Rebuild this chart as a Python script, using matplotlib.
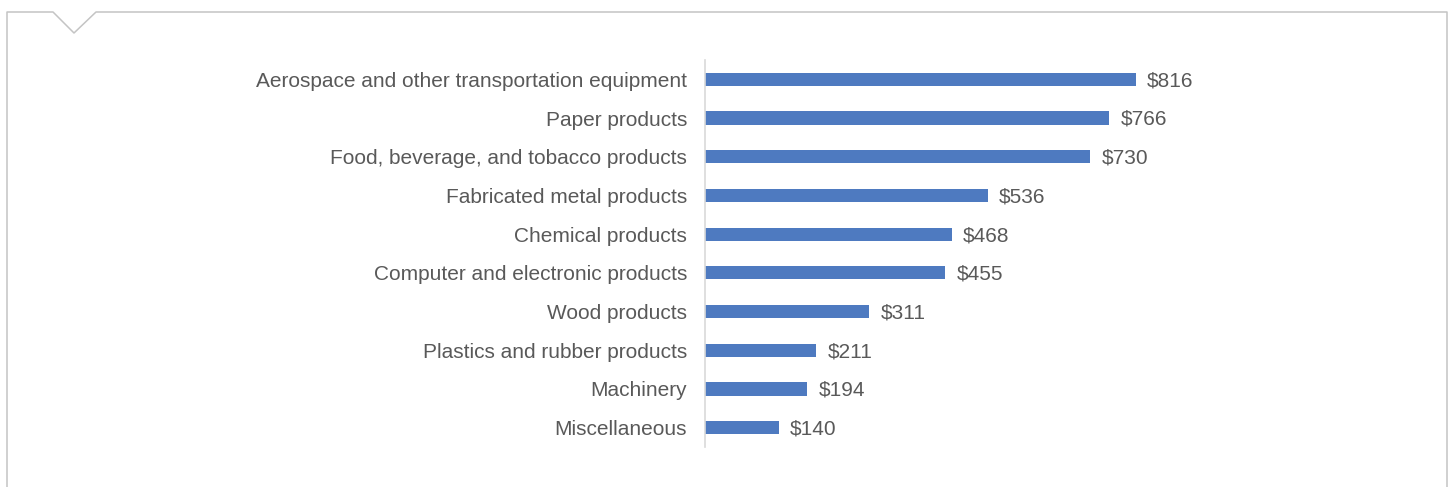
import matplotlib
matplotlib.use("Agg")
import matplotlib.pyplot as plt
from matplotlib.lines import Line2D

categories = [
    "Aerospace and other transportation equipment",
    "Paper products",
    "Food, beverage, and tobacco products",
    "Fabricated metal products",
    "Chemical products",
    "Computer and electronic products",
    "Wood products",
    "Plastics and rubber products",
    "Machinery",
    "Miscellaneous",
]
values = [816, 766, 730, 536, 468, 455, 311, 211, 194, 140]

BAR_COLOR = "#4E7AC0"
TEXT_COLOR = "#595959"
FRAME_COLOR = "#C4C4C4"

plt.rcParams["font.family"] = ["Liberation Sans", "DejaVu Sans"]

W, H = 1450, 487
fig = plt.figure(figsize=(W / 100, H / 100), dpi=100)

# panel frame with the little notch at the top-left
def px(x, y):
    return x / W, 1 - y / H

frame = [(7, H), (7, 12), (53, 12), (74, 33), (96, 12), (1447, 12), (1447, H)]
xs, ys = zip(*[px(x, y) for x, y in frame])
fig.add_artist(Line2D(xs, ys, color=FRAME_COLOR, lw=1.1, transform=fig.transFigure))

ax = fig.add_axes([705 / W, 1 - 447 / H, 528 / W, 387 / H])
pos = list(range(len(categories)))
ax.barh(pos, values, height=0.34, color=BAR_COLOR)
ax.set_ylim(len(categories) - 0.5, -0.5)
ax.set_xlim(0, 1000)
ax.set_yticks(pos)
ax.set_yticklabels(categories, fontsize=15, color=TEXT_COLOR)
ax.tick_params(axis="y", length=0, pad=13)
ax.set_xticks([])
for s in ("top", "right", "bottom"):
    ax.spines[s].set_visible(False)
ax.spines["left"].set_color("#D9D9D9")
ax.spines["left"].set_linewidth(1.2)

for p, v in zip(pos, values):
    ax.annotate(f"${v}", (v, p), xytext=(8, -1), textcoords="offset points",
                va="center", ha="left", fontsize=15, color=TEXT_COLOR)

fig.savefig("out.png", dpi=100)
